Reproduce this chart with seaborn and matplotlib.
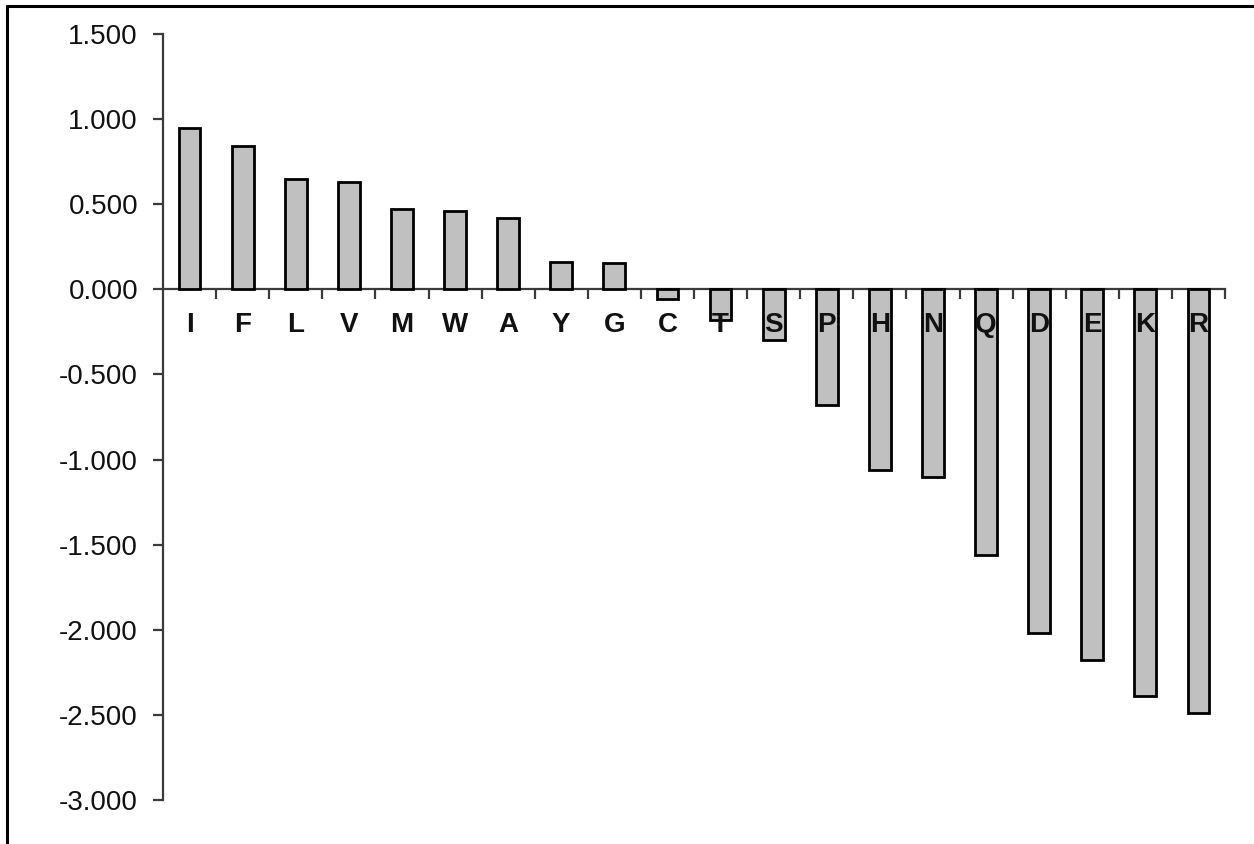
import numpy as np
import matplotlib
matplotlib.use("Agg")
import matplotlib.pyplot as plt
from matplotlib.lines import Line2D
from matplotlib.ticker import FuncFormatter, FixedLocator
import seaborn as sns

# Hydrophobicity values per amino acid (one-letter codes)
residues = ["I", "F", "L", "V", "M", "W", "A", "Y", "G", "C",
            "T", "S", "P", "H", "N", "Q", "D", "E", "K", "R"]
scores = [0.95, 0.84, 0.65, 0.63, 0.47, 0.46, 0.42, 0.16, 0.155, -0.055,
          -0.18, -0.30, -0.68, -1.06, -1.10, -1.56, -2.02, -2.18, -2.39, -2.49]
y_ticks = [1.5, 1.0, 0.5, 0.0, -0.5, -1.0, -1.5, -2.0, -2.5, -3.0]

sns.set_theme(style="white")
plt.rcParams["font.family"] = ["Liberation Sans", "DejaVu Sans"]

fig = plt.figure(figsize=(12.54, 8.44), dpi=100)
ax = fig.add_axes([163 / 1254, 1 - 800 / 844, (1225 - 163) / 1254, (800 - 34) / 844])

sns.barplot(x=residues, y=scores, ax=ax, color="#c0c0c0", saturation=1,
            edgecolor="black", linewidth=2.0, width=0.41)

ax.set_ylim(-3.0, 1.5)
ax.set_xlim(-0.5, len(residues) - 0.5)
ax.set_xlabel("")
ax.set_ylabel("")

# letters and ticks are drawn over the bars
ax.set_axisbelow(False)

# axes lines: left spine plus a baseline at zero
for side in ("top", "right"):
    ax.spines[side].set_visible(False)
ax.spines["bottom"].set_position(("data", 0))
for side in ("left", "bottom"):
    ax.spines[side].set_color("#3a3a3a")
    ax.spines[side].set_linewidth(1.6)
ax.spines["bottom"].set_zorder(0.5)

ax.yaxis.set_major_locator(FixedLocator(y_ticks))
ax.yaxis.set_major_formatter(FuncFormatter(lambda v, _: f"{v:.3f}"))
ax.tick_params(axis="y", which="major", direction="out", length=7, width=1.6,
               color="#3a3a3a", pad=11, labelsize=20, left=True, labelcolor="#111111")

# category separators below the baseline, labels without tick marks
ax.xaxis.set_minor_locator(FixedLocator(np.arange(0.5, len(residues), 1.0)))
ax.tick_params(axis="x", which="major", length=0, pad=16, labelsize=20, bottom=True,
               labelcolor="#111111")
ax.tick_params(axis="x", which="minor", direction="out", length=7, width=1.6,
               color="#3a3a3a", bottom=True)
for lbl in ax.get_xticklabels():
    lbl.set_fontweight("bold")

ax.grid(False)

# outer frame (top and left edges)
fig.add_artist(Line2D([7 / 1254, 7 / 1254], [0, 1 - 6 / 844], transform=fig.transFigure,
                      color="black", linewidth=2.2))
fig.add_artist(Line2D([7 / 1254, 1], [1 - 6 / 844, 1 - 6 / 844], transform=fig.transFigure,
                      color="black", linewidth=2.2))

fig.savefig("out.png", dpi=100, facecolor="white")
